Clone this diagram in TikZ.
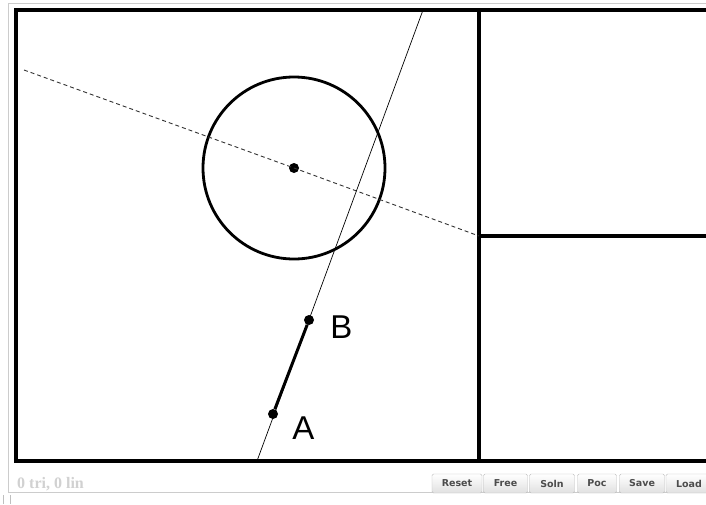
\documentclass[tikz,border=0pt]{standalone}
\usepackage{fontspec}
\setmainfont{Liberation Serif}
\setsansfont{Liberation Sans}
\newfontfamily\btnfont{DejaVu Sans}
\usetikzlibrary{positioning,calc}

\begin{document}
\begin{tikzpicture}[
  x=1pt, y=-1pt,
  frame/.style={line width=3.6pt},
  pt/.style={circle, fill=black, inner sep=0pt, minimum size=10pt},
  lbl/.style={font=\sffamily\fontsize{33}{33}\selectfont, inner sep=0pt},
  btn/.style={draw=black!25, rounded corners=1.5pt, minimum height=19pt, inner sep=0pt,
    top color=white, bottom color=black!12, font=\btnfont\bfseries\fontsize{9.5}{9.5}\selectfont, text=black!70}
]
\clip (0,0) rectangle (706,504);
\fill[white] (0,0) rectangle (706,504);
% outer page border
\draw[black!20, line width=0.8pt] (8,3) -- (712,3);
\draw[black!20, line width=0.8pt] (8,3) -- (8,492) -- (712,492);
\draw[black!25, line width=0.6pt] (3,495) -- (3,504) (10,495) -- (10,504);

% board
\coordinate (tl) at (16,10);
\coordinate (br) at (712,461);
\coordinate (divtop) at (479,10);
\coordinate (divbot) at (479,461);
\coordinate (midl) at (479,236);
\coordinate (midr) at (712,236);
\draw[frame] (tl) rectangle (br);
\draw[frame] (divtop) -- (divbot);
\draw[frame] (midl) -- (midr);

% circle and its centre
\node[pt] (ctr) at (294,168) {};
\draw[line width=2.8pt] (ctr) circle[radius=91];
\coordinate (dashend) at (24,70);
\draw[dashed, line width=0.9pt, black!80, dash pattern=on 4pt off 3pt] (dashend) -- (ctr.center) -- (midl);

% line through A and B
\node[pt] (B) at (309,320) {};
\node[pt] (A) at (273,414) {};
\coordinate (ltop) at (423,10);
\coordinate (lbot) at (257,461);
\draw[line width=0.7pt] (ltop) -- (lbot);
\draw[line width=3pt] (A) -- (B);
\node[lbl, right=16pt of B, yshift=-7pt] (Blbl) {B};
\node[lbl, right=14pt of A, yshift=-14pt] (Albl) {A};

% status bar
\node[anchor=west, text=black!18, font=\bfseries\fontsize{16}{16}\selectfont, inner sep=0pt] (status) at (17,484) {0 tri, 0 lin};
\foreach \name/\cx/\w in {Reset/457/50, Free/505.5/44, Soln/552/45, Poc/597/39, Save/642/45, Load/689/46}
  \node[btn, minimum width=\w] (\name) at (\cx,483.5) {\name};
\end{tikzpicture}
\end{document}
